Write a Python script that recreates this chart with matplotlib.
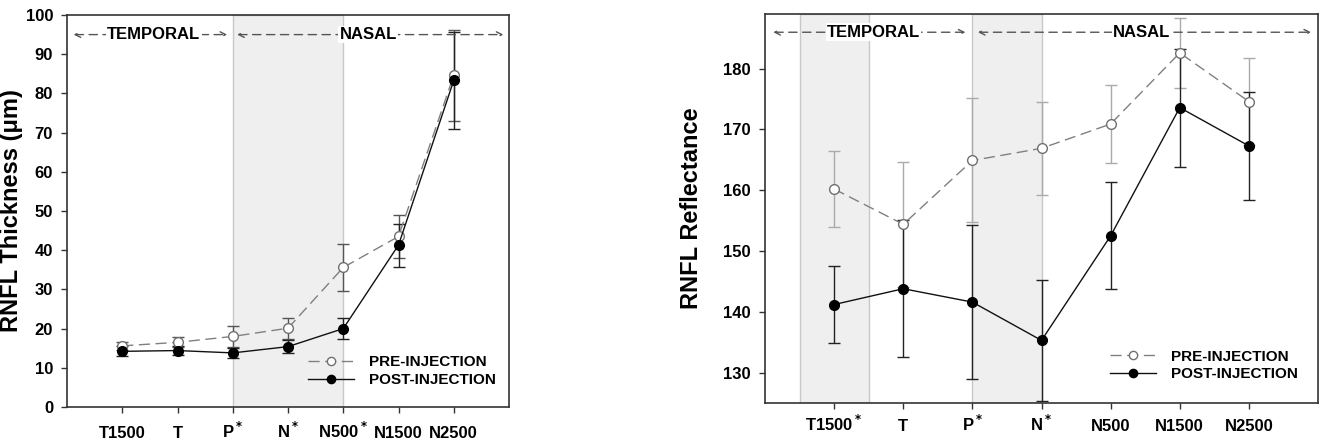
import matplotlib
matplotlib.use('Agg')
import matplotlib.pyplot as plt

plt.rcParams['font.family'] = ['Liberation Sans', 'DejaVu Sans']
plt.rcParams['font.weight'] = 'bold'
plt.rcParams['mathtext.fontset'] = 'dejavusans'

# Panel izquierdo: grosor de la RNFL
cats_thk = ['T1500', 'T', 'P$^*$', 'N$^*$', 'N500$^*$', 'N1500', 'N2500']
pre_thk = [15.6, 16.5, 18.0, 20.1, 35.6, 43.5, 84.6]
pre_thk_err = [1.0, 1.3, 2.7, 2.7, 6.0, 5.6, 11.6]
post_thk = [14.2, 14.4, 13.8, 15.4, 20.0, 41.3, 83.3]
post_thk_err = [1.3, 1.2, 1.3, 1.6, 2.7, 5.5, 12.4]

# Panel derecho: reflectancia de la RNFL
cats_ref = ['T1500$^*$', 'T', 'P$^*$', 'N$^*$', 'N500', 'N1500', 'N2500']
pre_ref = [160.2, 154.4, 164.9, 166.9, 170.9, 182.6, 174.6]
pre_ref_err = [6.2, 10.3, 10.2, 7.7, 6.4, 5.7, 7.2]
post_ref = [141.2, 143.8, 141.6, 135.3, 152.5, 173.6, 167.3]
post_ref_err = [6.3, 11.3, 12.7, 10.0, 8.8, 9.7, 8.9]

W, H = 1320, 441
fig = plt.figure(figsize=(W / 100, H / 100), dpi=100)
ax1 = fig.add_axes([67 / W, 1 - 407 / H, (509 - 67) / W, (407 - 15) / H])
ax2 = fig.add_axes([765 / W, 1 - 403 / H, (1318 - 765) / W, (403 - 14) / H])

x = list(range(1, 8))


def draw(ax, cats, pre, pre_err, post, post_err, shades, pre_ecol, y_arrow, leg_anchor, xpad):
    for a, b in shades:
        ax.axvspan(a, b, facecolor='#efefef', edgecolor='#c8c8c8', lw=1, zorder=0)
    ax.errorbar(x, pre, yerr=pre_err, fmt='none', ecolor=pre_ecol, elinewidth=1,
                capsize=4, capthick=1, zorder=2)
    ax.errorbar(x, post, yerr=post_err, fmt='none', ecolor='#222222', elinewidth=1,
                capsize=4, capthick=1, zorder=2)
    ax.plot(x, pre, color='#808080', ls=(0, (8, 4)), lw=1, marker='o', ms=7,
            mfc='white', mec='#707070', mew=1, label='PRE-INJECTION', zorder=3)
    ax.plot(x, post, color='#111111', ls='-', lw=1, marker='o', ms=7,
            mfc='black', mec='black', label='POST-INJECTION', zorder=4)
    ax.set_xlim(0, 8)
    ax.set_xticks(x)
    ax.set_xticklabels(cats, fontsize=12, fontweight='bold')
    ax.tick_params(axis='y', direction='out', length=4, width=1, color='#333333',
                   labelsize=12, pad=6)
    ax.tick_params(axis='x', direction='out', length=4, width=1, color='#333333',
                   labelsize=12, pad=xpad)
    for lab in ax.get_xticklabels():
        lab.set_va('baseline')
    for s in ax.spines.values():
        s.set_color('#333333')
        s.set_linewidth(1.2)
    # flechas de regiones
    kw = dict(arrowstyle='<->', color='#555555', lw=1, ls=(0, (6, 4)), shrinkA=0, shrinkB=0)
    ax.annotate('', xy=(2.9, y_arrow), xytext=(0.12, y_arrow), arrowprops=kw)
    ax.annotate('', xy=(7.9, y_arrow), xytext=(3.08, y_arrow), arrowprops=kw)
    tb = dict(facecolor='white', edgecolor='none', pad=1)
    ax.text(1.57, y_arrow, 'TEMPORAL', ha='center', va='center', fontsize=12,
            fontweight='bold', bbox=tb)
    ax.text(5.45, y_arrow, 'NASAL', ha='center', va='center', fontsize=12,
            fontweight='bold', bbox=tb)
    leg = ax.legend(loc='lower right', frameon=False, fontsize=11, handlelength=3,
                    bbox_to_anchor=leg_anchor, borderaxespad=0, labelspacing=0.25,
                    markerscale=0.85, handletextpad=1.0)
    for t in leg.get_texts():
        t.set_fontweight('bold')


draw(ax1, cats_thk, pre_thk, pre_thk_err, post_thk, post_thk_err, [(3, 5)], '#555555', 95,
     (0.985, 0.035), 18)
ax1.set_ylim(0, 100)
ax1.set_yticks(range(0, 101, 10))
ax1.set_ylabel('RNFL Thickness (μm)', fontsize=17, fontweight='bold')
ax1.yaxis.set_label_coords(-0.1, 0.5)

draw(ax2, cats_ref, pre_ref, pre_ref_err, post_ref, post_ref_err, [(0.5, 1.5), (3, 4)],
     '#aaaaaa', 186, (0.975, 0.04), 16)
ax2.set_ylim(125, 189)
ax2.set_yticks(range(130, 181, 10))
ax2.set_ylabel('RNFL Reflectance', fontsize=17, fontweight='bold')
ax2.yaxis.set_label_coords(-0.112, 0.5)

fig.savefig('out.png', dpi=100)
